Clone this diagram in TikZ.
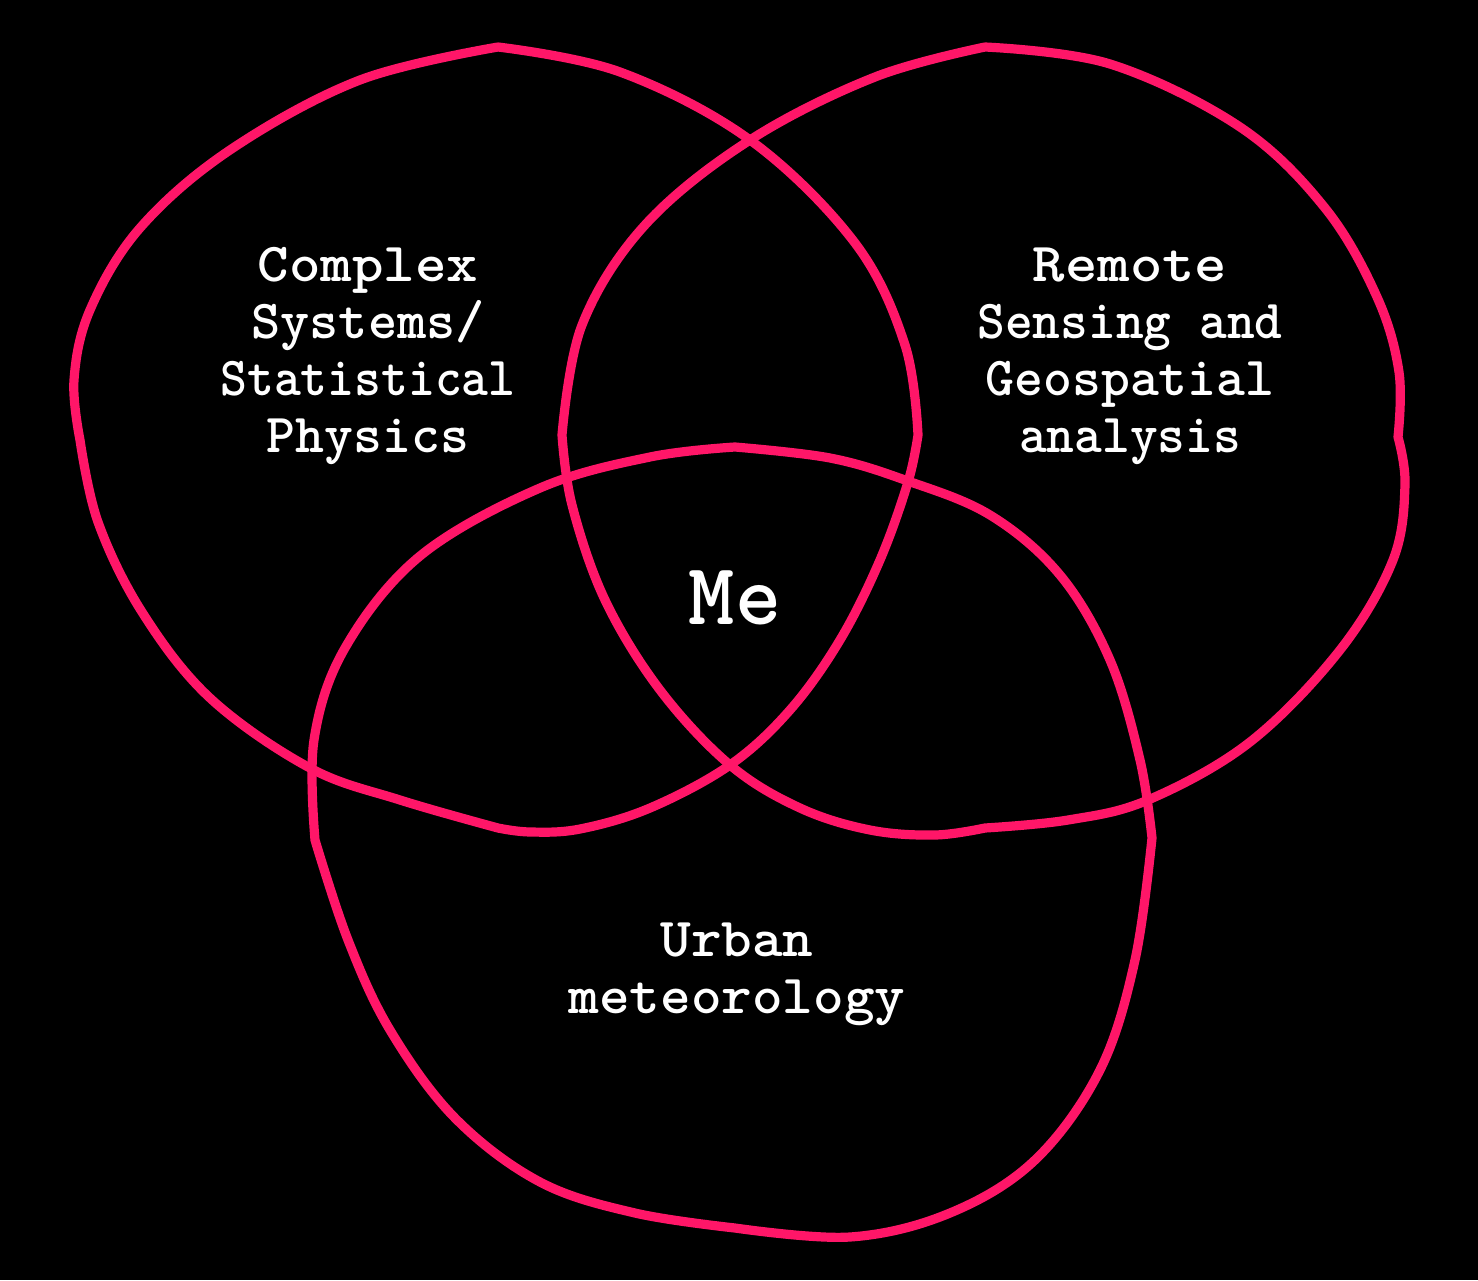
\documentclass[tikz,border=0pt]{standalone}
\usepackage{fontspec}
\usepackage{graphicx}
\definecolor{vpink}{RGB}{255,22,104}
\newcommand{\sxl}[2]{\scalebox{#1}[1]{#2}}
\tikzset{
  loop/.style={draw=vpink, line width=4.6pt, line join=round, line cap=round},
  sm/.style={smooth, tension=0.6},
  lbl/.style={text=white, align=center, font=\ttfamily\bfseries\fontsize{27.5}{28.5}\selectfont, inner sep=0pt},
  melbl/.style={text=white, font=\ttfamily\bfseries\fontsize{44}{48}\selectfont, inner sep=0pt}
}
\begin{document}
\begin{tikzpicture}[x=0.5pt,y=-0.5pt]
\fill[black] (0,0) rectangle (1478,1280);
\useasboundingbox (0,0) rectangle (1478,1280);
% left loop
\draw[loop] plot[sm] coordinates {(498,47) (620,72) (750,140) (855,243) (905,345) (918,435)}
 -- plot[sm] coordinates {(918,435) (908,482) (880,560) (840,640) (790,710) (730,765) (650,808) (580,829) (530,832) (498,828)}
 -- plot[sm] coordinates {(498,828) (400,800) (310,768) (210,698) (142,612) (98,522) (80,440)}
 -- plot[sm] coordinates {(80,440) (74,380) (90,310) (140,228) (230,150) (360,80) (498,47)};
% right loop
\draw[loop] plot[sm] coordinates {(985,47) (875,77) (750,140) (645,225) (582,325) (562,435)}
 -- plot[sm] coordinates {(562,435) (572,505) (605,600) (660,690) (730,765) (800,808) (870,830) (935,835) (985,828)}
 -- plot[sm] coordinates {(985,828) (1068,820) (1148,800) (1250,742) (1340,650) (1393,560) (1405,485) (1398,437)}
 -- plot[sm] coordinates {(1398,437) (1399,372) (1377,297) (1325,208) (1240,127) (1110,64) (985,47)};
% bottom loop
\draw[loop] plot[sm] coordinates {(735,447) (830,458) (905,480) (990,515) (1060,575) (1110,660) (1140,760) (1152,838)}
 -- plot[sm] coordinates {(1152,838) (1135,960) (1100,1070) (1035,1160) (950,1213) (850,1237) (735,1228)}
 -- plot[sm] coordinates {(735,1228) (635,1213) (540,1182) (455,1118) (390,1030) (348,940) (315,840)}
 -- plot[sm] coordinates {(315,840) (314,740) (345,648) (420,556) (540,488) (650,457) (735,447)};
% labels
\node[lbl] (cs) at (368,356) {\sxl{1.09}{Complex}\\\sxl{1.01}{Systems/}\\\sxl{0.93}{Statistical}\\Physics};
\node[lbl] (rs) at (1130,356) {\sxl{1.12}{Remote}\\\sxl{0.96}{Sensing and}\\Geospatial\\\sxl{0.96}{analysis}};
\node[lbl] (um) at (737,974) {\sxl{1.06}{Urban}\\\sxl{1.06}{meteorology}};
\node[melbl] (me) at (735,598) {Me};
\end{tikzpicture}
\end{document}
